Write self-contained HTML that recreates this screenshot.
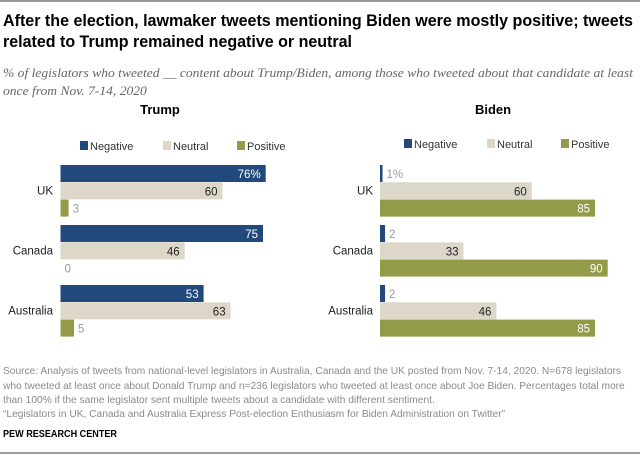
<!DOCTYPE html>
<html><head><meta charset="utf-8"><style>
html,body{margin:0;padding:0;background:#fff;}
svg{display:block;font-family:"Liberation Sans",sans-serif;}
</style></head><body>
<svg id="chart" width="640" height="455" viewBox="0 0 640 455">
<line x1="0" y1="1" x2="640" y2="1" stroke="#7a7a7a" stroke-width="1.5"/>
<text x="3" y="26" font-size="17" font-weight="bold" fill="#000" textLength="630" lengthAdjust="spacingAndGlyphs">After the election, lawmaker tweets mentioning Biden were mostly positive; tweets</text>
<text x="3" y="47" font-size="17" font-weight="bold" fill="#000" textLength="349" lengthAdjust="spacingAndGlyphs">related to Trump remained negative or neutral</text>
<g class="sub">
<text x="3" y="77" font-size="13" font-style="italic" fill="#666" font-family="Liberation Serif, serif">% of legislators who tweeted __ content about Trump/Biden, among those who tweeted about that candidate at least</text>
<text x="3" y="95" font-size="13" font-style="italic" fill="#666" font-family="Liberation Serif, serif">once from Nov. 7-14, 2020</text>
</g>
<g id="plots"></g>
<g class="foot">
<text x="3" y="374" font-size="10.5" fill="#8a8a8a">Source: Analysis of tweets from national-level legislators in Australia, Canada and the UK posted from Nov. 7-14, 2020. N=678 legislators</text>
<text x="3" y="389" font-size="10.5" fill="#8a8a8a">who tweeted at least once about Donald Trump and n=236 legislators who tweeted at least once about Joe Biden. Percentages total more</text>
<text x="3" y="403" font-size="10.5" fill="#8a8a8a">than 100% if the same legislator sent multiple tweets about a candidate with different sentiment.</text>
<text x="3" y="417" font-size="10.5" fill="#8a8a8a">“Legislators in UK, Canada and Australia Express Post-election Enthusiasm for Biden Administration on Twitter”</text>
</g>
<text x="3" y="437" font-size="10.5" font-weight="bold" fill="#000" textLength="114" lengthAdjust="spacingAndGlyphs">PEW RESEARCH CENTER</text>
<line x1="0" y1="453" x2="640" y2="453" stroke="#7a7a7a" stroke-width="1.5"/>
</svg>
<script>
const categories = ["UK", "Canada", "Australia"];
const seriesNames = ["Negative", "Neutral", "Positive"];
const trumpNegative = [76, 75, 53];
const trumpNeutral = [60, 46, 63];
const trumpPositive = [3, 0, 5];
const bidenNegative = [1, 2, 2];
const bidenNeutral = [60, 33, 46];
const bidenPositive = [85, 90, 85];

const NS = "http://www.w3.org/2000/svg";
const colors = ["#21497b", "#dcd7c9", "#939b48"];
const insideText = ["#fff", "#222", "#fff"];
const root = document.getElementById("plots");
function mk(tag, attrs, parent) {
  const e = document.createElementNS(NS, tag);
  for (const k in attrs) e.setAttribute(k, attrs[k]);
  (parent || root).appendChild(e);
  return e;
}
function fitGroup(sel, targetWidth) {
  const ts = document.querySelectorAll(sel + " text");
  const f = targetWidth / ts[0].getComputedTextLength();
  ts.forEach(t => {
    const w = t.getComputedTextLength() * f;
    t.setAttribute("textLength", w.toFixed(1));
    t.setAttribute("lengthAdjust", "spacingAndGlyphs");
  });
}
fitGroup(".sub", 630);
fitGroup(".foot", 618);

function panel(title, cx, x0, scale, labelX, legendXs, legendY, series, key) {
  const g = mk("g", {});
  
  
  const t = mk("text", {x: cx, y: 114, "font-size": 13, "font-weight": "bold", "text-anchor": "middle", fill: "#000"}, g);
  t.textContent = title;
  
  
  seriesNames.forEach((n, i) => {
    const r = mk("rect", {x: legendXs[i], y: legendY - 9, width: 8, height: 9, fill: colors[i]}, g);
    
    
    const lt = mk("text", {x: legendXs[i] + 10, y: legendY, "font-size": 11, fill: "#333"}, g);
    lt.textContent = n;
    
    
  });
  const xs = v => x0 + v * scale;
  const barH = 17, groupTop = [165, 225, 285];
  categories.forEach((c, ci) => {
    const cl = mk("text", {x: labelX, y: groupTop[ci] + barH * 1.5 + 4, "font-size": 11.5, "text-anchor": "end", fill: "#222"}, g);
    cl.textContent = c;
    
    
    series.forEach((arr, si) => {
      const v = arr[ci];
      const y = groupTop[ci] + si * (barH + 0.3);
      const w = xs(v) - x0;
      if (w > 0) {
        const r = mk("rect", {x: x0, y: y, width: w, height: barH, fill: colors[si]}, g);
        
        
      }
      const label = v + (ci === 0 && si === 0 ? "%" : "");
      const inside = v >= 10;
      const lb = mk("text", {x: inside ? xs(v) - 5 : xs(v) + 4, y: y + 13, "font-size": 11.5,
        "text-anchor": inside ? "end" : "start", fill: inside ? insideText[si] : "#999"}, g);
      lb.textContent = label;
      
      
    });
  });
}
panel("Trump", 160, 60.5, 2.7, 53, [80, 163, 237], 150, [trumpNegative, trumpNeutral, trumpPositive], "trump");
panel("Biden", 493, 380, 2.53, 373, [404, 487, 561], 148, [bidenNegative, bidenNeutral, bidenPositive], "biden");
</script>
</body></html>
